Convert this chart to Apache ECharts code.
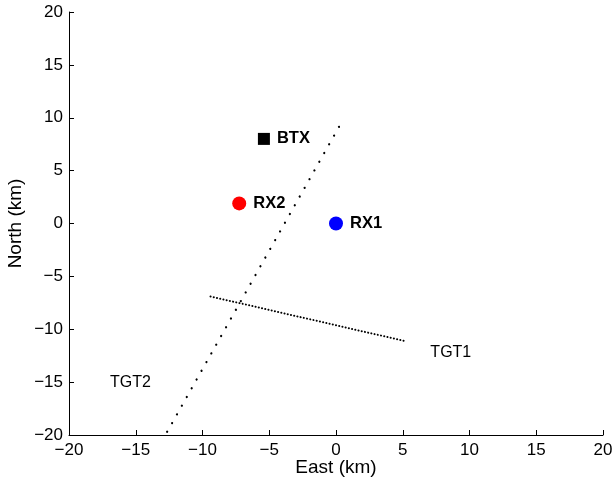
<!DOCTYPE html>
<html>
<head>
<meta charset="utf-8">
<script src="https://cdn.jsdelivr.net/npm/echarts@6/dist/echarts.min.js"></script>
<style>
  html, body { margin: 0; padding: 0; background: #fff; }
  #chart { width: 616px; height: 481px; }
</style>
</head>
<body>
<div id="chart"></div>
<script>
// 站点位置 (km)
const btx = [[-5.4, 8.0]]
const rx1 = [[0, 0]]
const rx2 = [[-7.25, 1.9]]
// 目标航迹端点
const tgt1Track = [[-9.4, -6.9], [5.1, -11.1]]
const tgt2Track = [[-12.65, -19.7], [0.25, 9.2]]
// 目标标注位置
const tgtLabels = [
  { name: 'TGT1', value: [8.6, -12.2] },
  { name: 'TGT2', value: [-15.4, -15.0] }
]
const axisTicks = [-20, 20, 5]

const chart = echarts.init(document.getElementById('chart'), null, {
  width: 616,
  height: 481
})

const font = 'Liberation Sans, Arial, sans-serif'
const minus = v => String(v).replace('-', '\u2212')

const pointLabel = {
  show: true,
  position: 'right',
  distance: 7,
  formatter: '{a}',
  fontFamily: font,
  fontSize: 16.5,
  fontWeight: 'bold',
  color: '#000'
}

chart.setOption({
  animation: false,
  grid: {
    left: 69,
    right: 13,
    top: 12,
    bottom: 46,
    outerBoundsMode: 'none'
  },
  xAxis: {
    type: 'value',
    min: axisTicks[0],
    max: axisTicks[1],
    interval: axisTicks[2],
    name: 'East (km)',
    nameLocation: 'middle',
    nameGap: 23,
    nameMoveOverlap: false,
    nameTextStyle: { fontFamily: font, fontSize: 19, color: '#000' },
    splitLine: { show: false },
    axisLine: { onZero: false, lineStyle: { color: '#000', width: 1 } },
    axisTick: { inside: true, length: 5, lineStyle: { color: '#000' } },
    axisLabel: { margin: 7, fontFamily: font, fontSize: 17, color: '#000', formatter: minus }
  },
  yAxis: {
    type: 'value',
    min: axisTicks[0],
    max: axisTicks[1],
    interval: axisTicks[2],
    name: 'North (km)',
    nameLocation: 'middle',
    nameGap: 44,
    nameMoveOverlap: false,
    nameTextStyle: { fontFamily: font, fontSize: 19, color: '#000' },
    splitLine: { show: false },
    axisLine: { show: true, onZero: false, lineStyle: { color: '#000', width: 1 } },
    axisTick: { show: true, inside: true, length: 5, lineStyle: { color: '#000' } },
    axisLabel: { margin: 6, fontFamily: font, fontSize: 17, color: '#000', formatter: minus }
  },
  series: [
    {
      name: 'TGT2 track',
      type: 'line',
      data: tgt2Track,
      symbol: 'none',
      lineStyle: { color: '#000', width: 2.2, type: [0.1, 9.9], cap: 'round' }
    },
    {
      name: 'TGT1 track',
      type: 'line',
      data: tgt1Track,
      symbol: 'none',
      lineStyle: { color: '#000', width: 2, type: [0.1, 3.2], cap: 'round' }
    },
    {
      name: 'BTX',
      type: 'scatter',
      data: btx,
      symbol: 'rect',
      symbolSize: 12,
      itemStyle: { color: '#000', opacity: 1 },
      label: pointLabel
    },
    {
      name: 'RX2',
      type: 'scatter',
      data: rx2,
      symbol: 'circle',
      symbolSize: 14,
      itemStyle: { color: '#ff0000', opacity: 1 },
      label: pointLabel
    },
    {
      name: 'RX1',
      type: 'scatter',
      data: rx1,
      symbol: 'circle',
      symbolSize: 14,
      itemStyle: { color: '#0000ff', opacity: 1 },
      label: pointLabel
    },
    {
      name: 'targets',
      type: 'scatter',
      data: tgtLabels,
      symbolSize: 0,
      itemStyle: { opacity: 1 },
      label: {
        show: true,
        position: 'inside',
        formatter: '{b}',
        fontFamily: font,
        fontSize: 16,
        color: '#000'
      }
    }
  ]
}, true)
</script>
</body>
</html>
